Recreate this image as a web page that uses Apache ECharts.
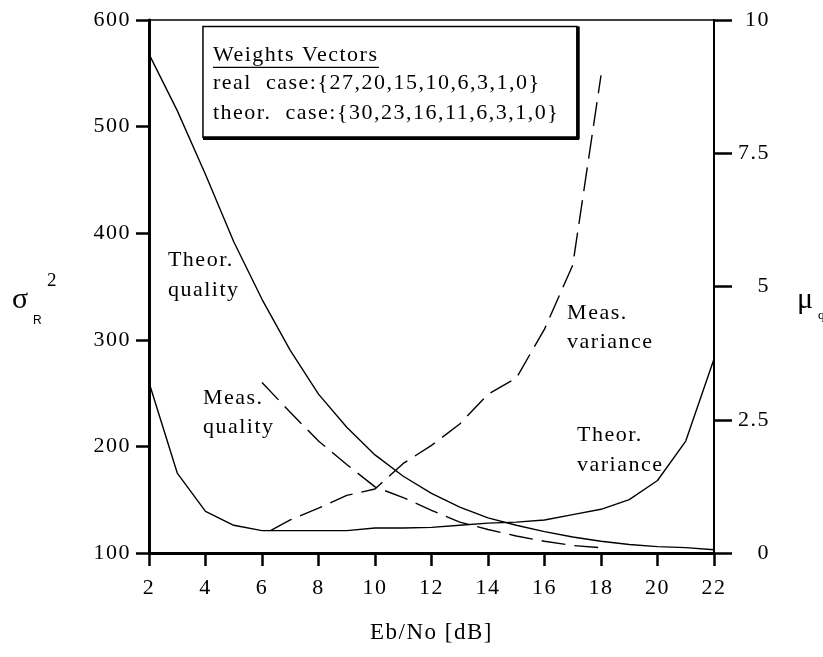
<!DOCTYPE html>
<html><head><meta charset="utf-8">
<script src="https://cdn.jsdelivr.net/npm/echarts@6/dist/echarts.min.js"></script>
<style>html,body{margin:0;padding:0;background:#fff}#c{width:823px;height:657px}</style>
</head><body><div id="c"></div>
<script>
// ---- data ----
const xTicks = [2,4,6,8,10,12,14,16,18,20,22];
const theorX = [2,3,4,5,6,7,8,9,10,11,12,13,14,15,16,17,18,19,20,21,22];
// Theor. quality (mu_q, right axis)
const theorQuality = [9.36,8.3,7.1,5.84,4.76,3.8,2.98,2.36,1.84,1.44,1.12,0.86,0.66,0.52,0.4,0.3,0.22,0.16,0.12,0.1,0.06];
// Theor. variance (sigma_R^2, left axis)
const theorVariance = [260,175,139,126,121,121,121,121,123.5,123.5,124,126,128,129,131,136,141,150,168,205,282];
// Meas. quality (mu_q, right axis)
const measQualityX = [6,7,8,9,10,11,12,13,14,15,16,17,18];
const measQuality = [3.2,2.64,2.1,1.66,1.24,1.04,0.8,0.58,0.44,0.32,0.22,0.14,0.1];
// Meas. variance (sigma_R^2, left axis)
const measVarianceX = [6.3,7,8,9,10,11,12,13,14,15,16,17,18];
const measVariance = [121,131,142,154,160,184,201,221,249,264,310,370,548];
const leftTicks = [100,200,300,400,500,600];
const rightTicks = [0,2.5,5,7.5,10];

// the original typesetting is letter-spaced: widen glyph spacing for canvas text
(function(){
  const C = CanvasRenderingContext2D.prototype;
  const f = C.fillText, m = C.measureText;
  C.fillText = function(){ this.letterSpacing = '1.5px'; return f.apply(this, arguments); };
  C.measureText = function(){ this.letterSpacing = '1.5px'; return m.apply(this, arguments); };
})();

const FONT = 'Liberation Serif';
const pair = (xs, ys) => xs.map((x,i)=>[x, ys[i]]);
const chart = echarts.init(document.getElementById('c'), null, {renderer:'canvas'});
const lineBase = {type:'line', symbol:'none', smooth:false, silent:true, animation:false};
const option = {
  animation:false,
  backgroundColor:'#fff',
  grid:{left:149, right:109, top:20, bottom:104},
  xAxis:[
    {type:'value', min:2, max:22, interval:2, position:'bottom',
    name:'Eb/No [dB]', nameLocation:'middle', nameGap:68,
    nameTextStyle:{fontFamily:FONT, fontSize:23, color:'#000'},
    axisLine:{lineStyle:{color:'#000', width:3}},
    axisTick:{length:13, lineStyle:{color:'#000', width:2.5}},
    axisLabel:{fontFamily:FONT, fontSize:22, color:'#000', margin:23,
      formatter:v=>String(v)},
    splitLine:{show:false}},
    {type:'value', min:2, max:22, position:'top',
     axisLine:{show:true, lineStyle:{color:'#000', width:1.5}},
     axisTick:{show:false}, axisLabel:{show:false}, splitLine:{show:false}}
  ],
  yAxis:[
    {type:'value', min:100, max:600, interval:100, position:'left',
     axisLine:{show:true, lineStyle:{color:'#000', width:3}},
     axisTick:{show:true, length:13, lineStyle:{color:'#000', width:2.5}},
     axisLabel:{fontFamily:FONT, fontSize:22, color:'#000', margin:18},
     splitLine:{show:false}},
    {type:'value', min:0, max:10, interval:2.5, position:'right',
     axisLine:{show:true, lineStyle:{color:'#000', width:2}},
     axisTick:{show:true, length:18, lineStyle:{color:'#000', width:2.5}},
     axisLabel:{fontFamily:FONT, fontSize:22, color:'#000', margin:14,
       formatter:v=> '{a|'+v+'}',
       rich:{a:{fontFamily:FONT, fontSize:22, color:'#000', width:42, align:'right'}}},
     splitLine:{show:false}}
  ],
  series:[
    Object.assign({}, lineBase, {name:'Theor. quality', yAxisIndex:1, data:pair(theorX, theorQuality),
      lineStyle:{color:'#000', width:1.4}}),
    Object.assign({}, lineBase, {name:'Theor. variance', yAxisIndex:0, data:pair(theorX, theorVariance),
      lineStyle:{color:'#000', width:1.4}}),
    Object.assign({}, lineBase, {name:'Meas. quality', yAxisIndex:1, data:pair(measQualityX, measQuality),
      lineStyle:{color:'#000', width:1.4, type:[24,9]}}),
    Object.assign({}, lineBase, {name:'Meas. variance', yAxisIndex:0, data:pair(measVarianceX, measVariance),
      lineStyle:{color:'#000', width:1.4, type:[24,9]}})
  ]
};
chart.setOption(option);

// annotations placed via data coordinates (left axis units)
const P = (x, v) => chart.convertToPixel({xAxisIndex:0, yAxisIndex:0}, [x, v]);
const T = (px, py, s, size, fam) => ({type:'text', x:px, y:py,
  style:{text:s, font:(size||22)+'px '+(fam||FONT), fill:'#000', verticalAlign:'middle', align:'left'}});
const txt = (x, v, s, size) => { const p = P(x, v); return T(p[0], p[1], s, size); };
const b0 = P(3.91, 594), b1 = P(17.15, 490);
const bw = b1[0]-b0[0], bh = b1[1]-b0[1];
const g = [
  {type:'rect', shape:{x:b0[0], y:b0[1], width:bw, height:bh}, style:{fill:'#fff', stroke:'#000', lineWidth:1.5}},
  {type:'line', shape:{x1:b0[0], y1:b1[1]+1, x2:b1[0]+2, y2:b1[1]+1}, style:{stroke:'#000', lineWidth:3.5}},
  {type:'line', shape:{x1:b1[0]+1, y1:b0[1], x2:b1[0]+1, y2:b1[1]+2}, style:{stroke:'#000', lineWidth:3.5}},
  T(b0[0]+10, b0[1]+29, 'Weights Vectors', 22),
  {type:'line', shape:{x1:b0[0]+10, y1:b0[1]+41, x2:b0[0]+176, y2:b0[1]+41}, style:{stroke:'#000', lineWidth:1.2}},
  T(b0[0]+10, b0[1]+57, 'real  case:{27,20,15,10,6,3,1,0}', 22),
  T(b0[0]+10, b0[1]+87, 'theor.  case:{30,23,16,11,6,3,1,0}', 22),
  txt(2.67, 374.6, 'Theor.'), txt(2.67, 346.5, 'quality'),
  txt(3.91, 245, 'Meas.'), txt(3.91, 218, 'quality'),
  txt(16.8, 325, 'Meas.'), txt(16.8, 297.8, 'variance'),
  txt(17.15, 210.6, 'Theor.'), txt(17.15, 182.5, 'variance'),
  // axis titles
  T(12, 300, 'σ', 30),
  T(33, 321, 'R', 12, 'Liberation Sans'),
  T(47, 281, '2', 19),
  T(797, 300, 'μ', 30),
  T(818, 316, 'q', 13)
];
chart.setOption({graphic:g});
</script></body></html>
